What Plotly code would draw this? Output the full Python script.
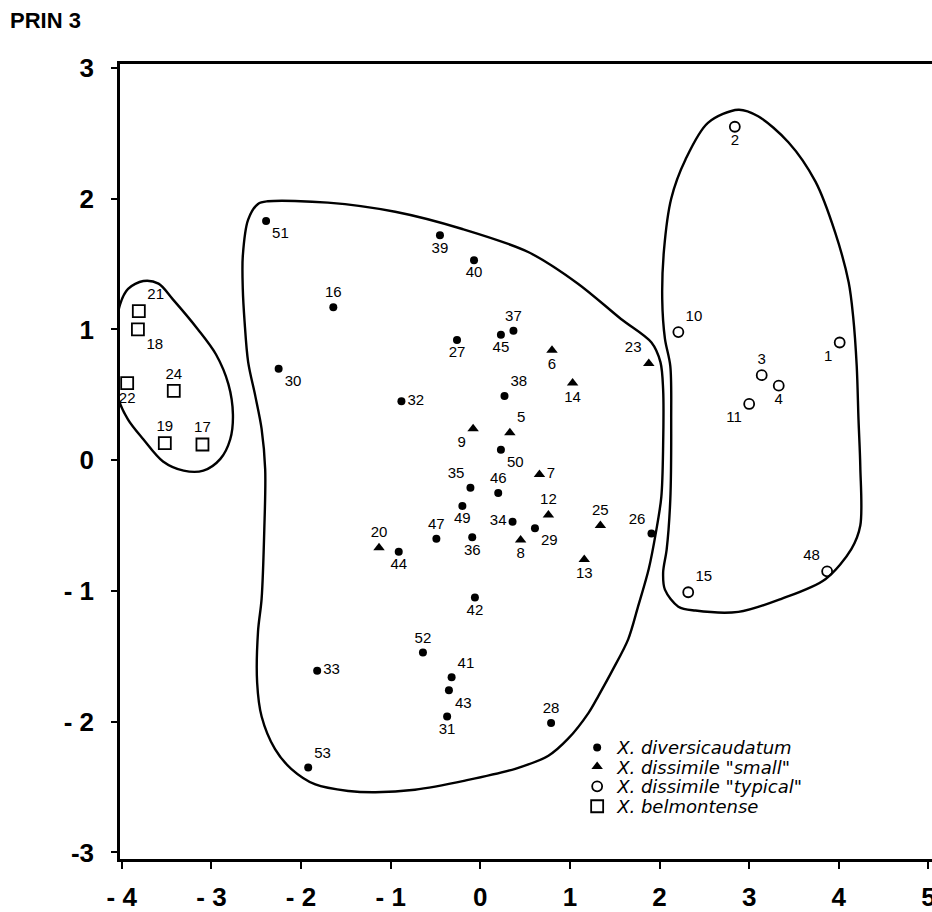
import plotly.graph_objects as go

# ---------------- data ----------------
# X. diversicaudatum (filled dots)
div_ids = [51, 39, 40, 16, 37, 45, 27, 30, 38, 32, 50, 35, 46, 49, 34, 29, 47, 36,
           44, 42, 26, 52, 33, 41, 43, 31, 28, 53]
div_x = [-2.39, -0.45, -0.07, -1.64, 0.37, 0.23, -0.26, -2.25, 0.27, -0.88, 0.23, -0.11,
         0.20, -0.20, 0.36, 0.61, -0.49, -0.09, -0.91, -0.06, 1.91, -0.64, -1.82, -0.32,
         -0.35, -0.37, 0.79, -1.92]
div_y = [1.83, 1.72, 1.53, 1.17, 0.99, 0.96, 0.92, 0.70, 0.49, 0.45, 0.08, -0.21,
         -0.25, -0.35, -0.47, -0.52, -0.60, -0.59, -0.70, -1.05, -0.56, -1.47, -1.61, -1.66,
         -1.76, -1.96, -2.01, -2.35]

# X. dissimile "small" (filled triangles)
sml_ids = [9, 5, 7, 12, 25, 8, 20, 13, 6, 14, 23]
sml_x = [-0.08, 0.33, 0.66, 0.76, 1.34, 0.45, -1.13, 1.16, 0.80, 1.03, 1.88]
sml_y = [0.24, 0.21, -0.11, -0.42, -0.50, -0.61, -0.67, -0.76, 0.84, 0.59, 0.74]

# X. dissimile "typical" (open circles)
typ_ids = [2, 10, 1, 3, 4, 11, 48, 15]
typ_x = [2.84, 2.21, 4.01, 3.14, 3.33, 3.00, 3.87, 2.32]
typ_y = [2.55, 0.98, 0.90, 0.65, 0.57, 0.43, -0.85, -1.01]

# X. belmontense (open squares)
bel_ids = [21, 18, 22, 24, 19, 17]
bel_x = [-3.81, -3.82, -3.94, -3.42, -3.52, -3.10]
bel_y = [1.14, 1.00, 0.59, 0.53, 0.13, 0.12]

# group outlines (hand-drawn envelopes)
left_env_x = [-4.04, -4.06, -4.02, -3.93, -3.76, -3.59, -3.43, -3.15, -2.95, -2.81, -2.76,
              -2.79, -2.90, -3.09, -3.31, -3.54, -3.76, -3.93]
left_env_y = [0.48, 1.00, 1.19, 1.31, 1.37, 1.35, 1.23, 1.00, 0.81, 0.58, 0.35,
              0.16, 0.01, -0.08, -0.08, -0.01, 0.16, 0.31]

mid_env_x = [-2.37, -1.70, -0.95, -0.21, 0.54, 1.09, 1.57, 1.91, 2.01, 2.04, 2.04, 2.02,
             1.96, 1.88, 1.76, 1.65, 1.48, 1.32, 1.21, 0.98, 0.76, 0.39, -0.17, -0.73,
             -1.17, -1.47, -1.84, -2.11, -2.29, -2.44, -2.49, -2.48, -2.44, -2.41, -2.40,
             -2.44, -2.51, -2.59, -2.63, -2.65, -2.65, -2.59, -2.48]
mid_env_y = [1.98, 1.97, 1.90, 1.77, 1.59, 1.35, 1.08, 0.90, 0.75, 0.54, 0.11, -0.28,
             -0.55, -0.83, -1.12, -1.37, -1.60, -1.80, -1.93, -2.13, -2.26, -2.36, -2.45, -2.52,
             -2.54, -2.53, -2.48, -2.36, -2.21, -1.96, -1.70, -1.31, -1.06, -0.53, -0.07,
             0.24, 0.49, 0.75, 1.06, 1.31, 1.56, 1.84, 1.96]

right_env_x = [2.88, 3.10, 3.44, 3.74, 3.96, 4.11, 4.16, 4.20, 4.22, 4.24, 4.24, 4.14,
               3.85, 3.36, 2.88, 2.40, 2.21, 2.06, 2.04, 2.08, 2.12, 2.13, 2.12, 2.06,
               2.03, 2.05, 2.13, 2.29, 2.54]
right_env_y = [2.68, 2.63, 2.43, 2.13, 1.74, 1.36, 1.10, 0.72, 0.31, -0.05, -0.50, -0.68,
               -0.91, -1.06, -1.16, -1.15, -1.12, -0.99, -0.86, -0.68, -0.30, 0.31, 0.72, 0.93,
               1.23, 1.61, 2.00, 2.30, 2.58]

x_ticks = [-4, -3, -2, -1, 0, 1, 2, 3, 4, 5]
x_tick_text = ["- 4", "- 3", "- 2", "- 1", "0", "1", "2", "3", "4", "5"]
y_ticks = [-3, -2, -1, 0, 1, 2, 3]
y_tick_text = ["-3", "- 2", "- 1", "0", "1", "2", "3"]

# ---------------- label placement (style) ----------------
div_pos = ["bottom right", "bottom center", "bottom center", "top center", "top center",
           "bottom center", "bottom center", "bottom right", "top right", "middle right",
           "bottom right", "top left", "top center", "bottom center", "middle left",
           "bottom right", "top center", "bottom center", "bottom center", "bottom center",
           "top left", "top center", "middle right", "top right", "bottom right",
           "bottom center", "top center", "top right"]
sml_pos = ["bottom left", "top right", "middle right", "top center", "top center",
           "bottom center", "top center", "bottom center", "bottom center", "bottom center",
           "top left"]
typ_pos = ["bottom center", "top right", "bottom left", "top center", "bottom center",
           "bottom left", "top left", "top right"]
bel_pos = ["top right", "bottom right", "bottom center", "top center", "top center",
           "top center"]

SANS = "Liberation Sans, Arial, Helvetica, sans-serif"
BOLD_SANS = "Liberation Sans Narrow, Liberation Sans, Arial, sans-serif"
LABEL_FONT = dict(family=SANS, size=15, color="black")

fig = go.Figure()


def closed(a):
    return list(a) + [a[0]]


for ex, ey in [(left_env_x, left_env_y), (mid_env_x, mid_env_y), (right_env_x, right_env_y)]:
    fig.add_trace(go.Scatter(
        x=closed(ex), y=closed(ey), mode="lines",
        line=dict(color="black", width=2.4, shape="spline", smoothing=0.9),
        showlegend=False, hoverinfo="skip"))

fig.add_trace(go.Scatter(
    x=div_x, y=div_y, mode="markers+text", name="X. diversicaudatum", legend="legend",
    text=[str(i) for i in div_ids], textposition=div_pos, textfont=LABEL_FONT,
    marker=dict(symbol="circle", size=8, color="black")))

fig.add_trace(go.Scatter(
    x=sml_x, y=sml_y, mode="markers+text", name='X. dissimile "small"', legend="legend2",
    text=[str(i) for i in sml_ids], textposition=sml_pos, textfont=LABEL_FONT,
    marker=dict(symbol="triangle-up", size=10, color="black")))

fig.add_trace(go.Scatter(
    x=typ_x, y=typ_y, mode="markers+text", name='X. dissimile "typical"', legend="legend3",
    text=[str(i) for i in typ_ids], textposition=typ_pos, textfont=LABEL_FONT,
    marker=dict(symbol="circle-open", size=10, color="black", line=dict(width=1.8))))

fig.add_trace(go.Scatter(
    x=bel_x, y=bel_y, mode="markers+text", name="X. belmontense", legend="legend4",
    text=[str(i) for i in bel_ids], textposition=bel_pos, textfont=LABEL_FONT,
    marker=dict(symbol="square-open", size=12, color="black", line=dict(width=1.8))))

TICK_FONT = dict(family=BOLD_SANS, size=26, color="black", weight="bold")

LEG_X = 0.563
LEG_ROWS = [0.140, 0.116, 0.091, 0.066]


def leg(y):
    return dict(
        x=LEG_X, y=y, xanchor="left", yanchor="middle",
        bgcolor="rgba(0,0,0,0)", borderwidth=0, itemwidth=30,
        font=dict(family="DejaVu Sans, Verdana, sans-serif", size=18, color="black",
                  style="italic"),
    )


fig.update_layout(
    width=932, height=912,
    margin=dict(l=120, r=0, t=64, b=53),
    paper_bgcolor="white", plot_bgcolor="white",
    showlegend=True,
    legend=leg(LEG_ROWS[0]), legend2=leg(LEG_ROWS[1]),
    legend3=leg(LEG_ROWS[2]), legend4=leg(LEG_ROWS[3]),
    xaxis=dict(
        range=[-4.02, 5.04], tickvals=x_ticks, ticktext=x_tick_text,
        showgrid=False, zeroline=False, showline=True, linecolor="black",
        linewidth=2.5, mirror=True, ticks="outside", ticklen=7, tickwidth=2,
        tickcolor="black", tickfont=TICK_FONT, ticklabelstandoff=6, automargin=False,
        ticklabeloverflow="allow",
    ),
    yaxis=dict(
        range=[-3.05, 3.03], tickvals=y_ticks, ticktext=y_tick_text,
        showgrid=False, zeroline=False, showline=True, linecolor="black",
        linewidth=2.5, mirror=False, ticks="outside", ticklen=6, tickwidth=2,
        tickcolor="black", tickfont=TICK_FONT, ticklabelstandoff=12, automargin=False,
        ticklabeloverflow="allow",
    ),
    annotations=[dict(
        text="<b>PRIN 3</b>", xref="paper", yref="paper",
        x=-0.138, y=1.055, xanchor="left", yanchor="middle", showarrow=False,
        font=dict(family=BOLD_SANS, size=22, color="black"),
    )],
)

for tr in fig.data:
    if tr.mode and "text" in tr.mode:
        tr.update(cliponaxis=False)

# remove the page's default body margin so the figure fills the window exactly
POST = "document.body.style.margin='0';document.body.style.overflow='hidden';"

fig.write_html("out.html", post_script=POST, config={"displayModeBar": False})
